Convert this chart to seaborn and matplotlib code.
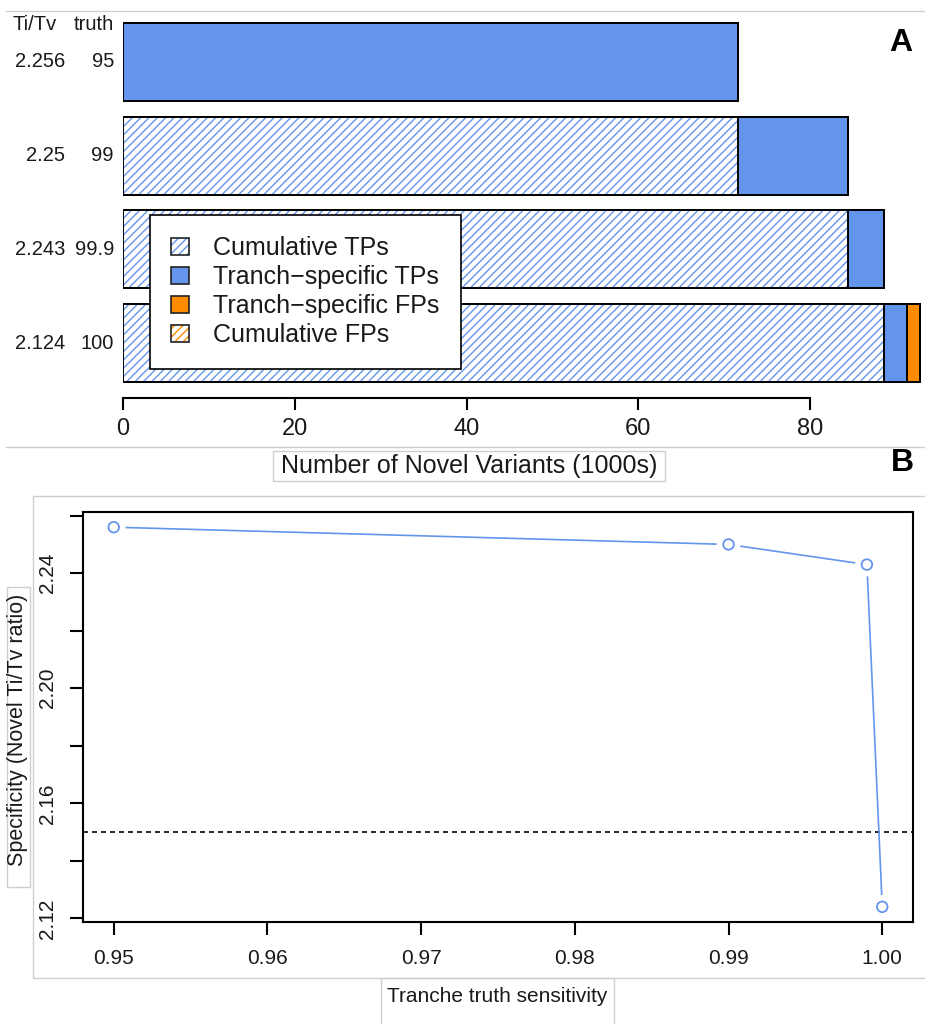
import numpy as np
import pandas as pd
import matplotlib
matplotlib.use("Agg")
import matplotlib.pyplot as plt
import seaborn as sns
from matplotlib.patches import Patch, Rectangle
from matplotlib.lines import Line2D

# ---------------- Panel A data ----------------
truth_labels = ["95", "99", "99.9", "100"]
titv_labels = ["2.256", "2.25", "2.243", "2.124"]
cumulative_tps = [0.0, 71.6, 84.4, 88.6]
specific_tps = [71.6, 12.8, 4.2, 2.7]
specific_fps = [0.0, 0.0, 0.0, 1.5]
cumulative_fps = [0.0, 0.0, 0.0, 0.0]
x_ticks_a = [0, 20, 40, 60, 80]
legend_labels = ["Cumulative TPs", "Tranch\u2212specific TPs",
                 "Tranch\u2212specific FPs", "Cumulative FPs"]

# ---------------- Panel B data ----------------
sensitivity = [0.95, 0.99, 0.999, 1.00]
titv_ratio = [2.256, 2.250, 2.243, 2.124]
titv_target = 2.15
x_ticks_b = [0.95, 0.96, 0.97, 0.98, 0.99, 1.00]
x_tick_labels_b = ["0.95", "0.96", "0.97", "0.98", "0.99", "1.00"]
y_ticks_b = [2.12, 2.14, 2.16, 2.18, 2.20, 2.22, 2.24, 2.26]
y_tick_labels_b = ["2.12", "", "2.16", "", "2.20", "", "2.24", ""]

BLUE = "#6495ED"
ORANGE = "#FF8C00"
INK = "#1a1a1a"
FRAME = "#cfcfcf"
HATCH = "////"

sns.set_theme(style="white")
plt.rcParams["font.family"] = ["Liberation Sans", "DejaVu Sans"]
plt.rcParams["hatch.linewidth"] = 1.0
plt.rcParams["text.color"] = INK
plt.rcParams["xtick.color"] = "black"
plt.rcParams["ytick.color"] = "black"
plt.rcParams["xtick.labelcolor"] = INK
plt.rcParams["ytick.labelcolor"] = INK

W, H = 925, 1024
fig = plt.figure(figsize=(W / 100, H / 100), dpi=100)


def fx(px):
    return px / W


def fy(py):
    return 1 - py / H


# ================= Panel A =================
axA = fig.add_axes([fx(123), fy(398), fx(925) - fx(123), fy(11) - fy(398)])
dfA = pd.DataFrame({
    "tranche": truth_labels,
    "cum_tp": cumulative_tps,
    "spec_tp": specific_tps,
    "spec_fp": specific_fps,
    "cum_fp": cumulative_fps,
})
dfA["e1"] = dfA["cum_tp"]
dfA["e2"] = dfA["e1"] + dfA["spec_tp"]
dfA["e3"] = dfA["e2"] + dfA["spec_fp"]
dfA["e4"] = dfA["e3"] + dfA["cum_fp"]

layers = [("e4", ORANGE, True), ("e3", ORANGE, False),
          ("e2", BLUE, False), ("e1", BLUE, True)]
BW = 0.83
for col, colr, hatched in layers:
    if hatched:
        sns.barplot(data=dfA, x=col, y="tranche", orient="h", width=BW,
                    color="white", saturation=1, errorbar=None, ax=axA,
                    edgecolor=colr, linewidth=0, hatch=HATCH)
    else:
        sns.barplot(data=dfA, x=col, y="tranche", orient="h", width=BW,
                    color=colr, saturation=1, errorbar=None, ax=axA,
                    linewidth=0)
    sns.barplot(data=dfA, x=col, y="tranche", orient="h", width=BW,
                color="black", fill=False, saturation=1, errorbar=None,
                ax=axA, linewidth=1.4)

axA.set_xlim(0, 802 / 8.5875)
axA.set_ylim(3.587, -0.544)
axA.set_yticks([])
axA.set_ylabel("")
axA.set_xlabel("")
for s in ["left", "top", "right"]:
    axA.spines[s].set_visible(False)
axA.spines["bottom"].set_bounds(0, 80)
axA.spines["bottom"].set_linewidth(1.5)
axA.spines["bottom"].set_color("black")
axA.set_xticks(x_ticks_a, [str(t) for t in x_ticks_a])
axA.tick_params(axis="x", bottom=True, length=8.6, width=1.5, pad=6,
                labelsize=17, direction="out")

# row labels
ytr = axA.get_yaxis_transform()
for i, (tv, tr) in enumerate(zip(titv_labels, truth_labels)):
    axA.text((65 - 123) / 802, i, tv, transform=ytr, ha="right", va="center",
             fontsize=14.5)
    axA.text((114 - 123) / 802, i, tr, transform=ytr, ha="right", va="center",
             fontsize=14.5)
axA.text((57 - 123) / 802, -0.405, "Ti/Tv", transform=ytr, ha="right",
         va="center", fontsize=14.5)
axA.text((114 - 123) / 802, -0.405, "truth", transform=ytr, ha="right",
         va="center", fontsize=14.5)

# legend
outline = dict(facecolor="none", edgecolor="#222222", linewidth=1.2)
handles = [
    (Patch(facecolor="white", edgecolor=BLUE, hatch=HATCH, linewidth=0),
     Patch(**outline)),
    Patch(facecolor=BLUE, edgecolor="#222222", linewidth=1.2),
    Patch(facecolor=ORANGE, edgecolor="#222222", linewidth=1.2),
    (Patch(facecolor="white", edgecolor=ORANGE, hatch=HATCH, linewidth=0),
     Patch(**outline)),
]
leg = axA.legend(handles, legend_labels, loc="upper left",
                 bbox_to_anchor=(fx(150), fy(215)),
                 bbox_transform=fig.transFigure, borderaxespad=0,
                 fontsize=18, handlelength=0.72, handleheight=0.72,
                 handletextpad=0.95, labelspacing=0.2, borderpad=0.85,
                 fancybox=False, framealpha=1, frameon=True)
leg.get_frame().set_edgecolor("black")
leg.get_frame().set_linewidth(1.2)

fig.text(fx(469), fy(466), "Number of Novel Variants (1000s)", ha="center",
         va="center", fontsize=18)
fig.text(fx(901), fy(43), "A", ha="center", va="center", fontsize=23,
         fontweight="bold", color="black")

# ================= Panel B =================
axB = fig.add_axes([fx(83), fy(922), fx(913) - fx(83), fy(512) - fy(922)])
dfB = pd.DataFrame({"sensitivity": sensitivity, "titv": titv_ratio})
sns.lineplot(data=dfB, x="sensitivity", y="titv", color=BLUE, linewidth=1.2,
             estimator=None, sort=False, ax=axB, zorder=2)
sns.scatterplot(data=dfB, x="sensitivity", y="titv", s=290, color="white",
                linewidth=0, edgecolor="none", ax=axB, zorder=2.2)
sns.scatterplot(data=dfB, x="sensitivity", y="titv", s=58, marker="o",
                facecolor="none", edgecolor=BLUE, linewidth=1.3, ax=axB,
                zorder=3)
axB.axhline(titv_target, color="black", linestyle=(0, (3, 2.4)),
            linewidth=1.2, zorder=1.5)

xr = max(sensitivity) - min(sensitivity)
yr = max(titv_ratio) - min(titv_ratio)
axB.set_xlim(min(sensitivity) - 0.04 * xr, max(sensitivity) + 0.04 * xr)
axB.set_ylim(min(titv_ratio) - 0.04 * yr, max(titv_ratio) + 0.04 * yr)
axB.set_xticks(x_ticks_b, x_tick_labels_b)
axB.set_yticks(y_ticks_b, y_tick_labels_b)
for lbl in axB.get_yticklabels():
    lbl.set_rotation(90)
    lbl.set_va("center")
axB.tick_params(axis="both", length=9.5, width=1.5, labelsize=15,
                direction="out", left=True, bottom=True)
axB.tick_params(axis="x", pad=10)
axB.tick_params(axis="y", pad=9)
for s in axB.spines.values():
    s.set_visible(True)
    s.set_color("black")
    s.set_linewidth(1.5)
axB.set_xlabel("")
axB.set_ylabel("")

fig.text(fx(497), fy(997), "Tranche truth sensitivity", ha="center",
         va="center", fontsize=15)
fig.text(fx(18), fy(730), "Specificity (Novel Ti/Tv ratio)", ha="center",
         va="center", rotation=90, fontsize=15.5)
fig.text(fx(902), fy(463), "B", ha="center", va="center", fontsize=23,
         fontweight="bold", color="black")

# ---- light grey compositing frames from the source figure ----
def hline(y, x0, x1):
    fig.add_artist(Line2D([fx(x0), fx(x1)], [fy(y), fy(y)], color=FRAME,
                          linewidth=1, transform=fig.transFigure))


def vline(x, y0, y1):
    fig.add_artist(Line2D([fx(x), fx(x)], [fy(y0), fy(y1)], color=FRAME,
                          linewidth=1, transform=fig.transFigure))


def box(x0, y0, x1, y1):
    fig.add_artist(Rectangle((fx(x0), fy(y1)), fx(x1) - fx(x0),
                             fy(y0) - fy(y1), fill=False, edgecolor=FRAME,
                             linewidth=1, transform=fig.transFigure))


hline(11, 6, 925)
hline(447, 6, 925)
hline(496, 33, 925)
hline(978, 33, 925)
vline(33, 496, 978)
box(273, 451, 665, 481)
box(7, 587, 30, 887)
box(381, 978, 614, 1030)

fig.savefig("out.png", dpi=100)
